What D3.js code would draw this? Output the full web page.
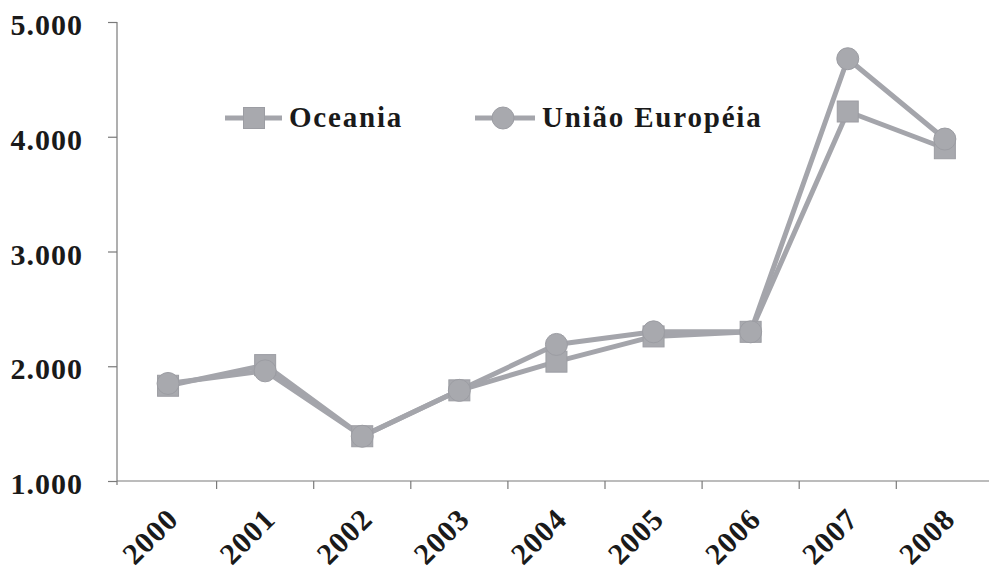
<!DOCTYPE html>
<html>
<head>
<meta charset="utf-8">
<script src="https://cdn.jsdelivr.net/npm/d3@7"></script>
<style>
  html, body { margin: 0; padding: 0; background: #ffffff; }
  svg { display: block; }
  text { font-family: "Liberation Serif", "Times New Roman", serif; font-weight: bold; fill: #1a1a1a; }
</style>
</head>
<body>
<svg id="chart" width="989" height="579"></svg>
<script>
// Years on the category axis
const years = ["2000", "2001", "2002", "2003", "2004", "2005", "2006", "2007", "2008"];
// Series values
const oceania = [1830, 2010, 1390, 1790, 2040, 2260, 2300, 4220, 3900];
const uniaoEuropeia = [1850, 1960, 1390, 1790, 2190, 2300, 2300, 4680, 3980];
// Value-axis ticks and their labels (Portuguese thousands separator)
const yTicks = [1000, 2000, 3000, 4000, 5000];
const yTickLabels = ["1.000", "2.000", "3.000", "4.000", "5.000"];
// Legend entries
const seriesNames = ["Oceania", "União Européia"];

const svg = d3.select("#chart");
const axisColor = "#7a7a7a";
const lineColor = "#a4a5ab";
const markerColor = "#a8a9ae";

const plotLeft = 117, axisY = 481, plotTop = 22;

const x = d3.scaleBand().domain(years).range([119.5, 119.5 + 97.1 * years.length]).paddingInner(0).paddingOuter(0);
const y = d3.scaleLinear().domain([1000, 5000]).range([axisY, plotTop]);

// Value axis
const yAxis = d3.axisLeft(y).tickValues(yTicks).tickSize(9).tickPadding(0).tickFormat((d, i) => yTickLabels[i]);
const gy = svg.append("g").attr("transform", `translate(${plotLeft},0)`).call(yAxis);
gy.select(".domain").attr("stroke", axisColor).attr("stroke-width", 1.2).attr("d", `M0,${plotTop}V${axisY + 4}`);
gy.selectAll(".tick line").attr("stroke", axisColor).attr("stroke-width", 1.2);
gy.selectAll(".tick text")
  .attr("x", -34).attr("dy", "12.5px")
  .attr("text-anchor", "end")
  .style("font-size", "30px").style("letter-spacing", "1px")
  .attr("fill", "#1a1a1a");

// Category axis, ticks sit on the boundaries between years
const gx = svg.append("g");
gx.append("line")
  .attr("x1", plotLeft).attr("x2", 989).attr("y1", axisY).attr("y2", axisY)
  .attr("stroke", axisColor).attr("stroke-width", 1.2);
gx.selectAll("line.tick").data(years.slice(1))
  .join("line").attr("class", "tick")
  .attr("x1", d => x(d)).attr("x2", d => x(d))
  .attr("y1", axisY).attr("y2", axisY + 8)
  .attr("stroke", axisColor).attr("stroke-width", 1.2);
gx.selectAll("text").data(years)
  .join("text")
  .attr("transform", d => `translate(${x(d) + x.bandwidth() / 2 + 12},${axisY + 40}) rotate(-45)`)
  .attr("text-anchor", "end")
  .style("font-size", "30px").style("letter-spacing", "1px")
  .text(d => d);

// Series lines and markers
const cx = d => x(d) + x.bandwidth() / 2;
const line = d3.line().x(d => cx(d.year)).y(d => y(d.value));
const seriesData = [oceania, uniaoEuropeia].map(vals => years.map((yr, i) => ({ year: yr, value: vals[i] })));

seriesData.forEach(pts => {
  svg.append("path").datum(pts)
    .attr("d", line)
    .attr("fill", "none")
    .attr("stroke", lineColor)
    .attr("stroke-width", 5)
    .attr("stroke-linejoin", "round");
});

const sq = 21, rad = 11;
svg.selectAll("rect.oc").data(seriesData[0]).join("rect").attr("class", "oc")
  .attr("x", d => cx(d.year) - sq / 2).attr("y", d => y(d.value) - sq / 2)
  .attr("width", sq).attr("height", sq)
  .attr("fill", markerColor).attr("stroke", "#9c9da3").attr("stroke-width", 1);
svg.selectAll("circle.ue").data(seriesData[1]).join("circle").attr("class", "ue")
  .attr("cx", d => cx(d.year)).attr("cy", d => y(d.value)).attr("r", rad)
  .attr("fill", markerColor).attr("stroke", "#9c9da3").attr("stroke-width", 1);

// Legend
const legend = svg.append("g");
const legendItems = [
  { name: seriesNames[0], lx1: 225, lx2: 282, mx: 254, tx: 289, shape: "square" },
  { name: seriesNames[1], lx1: 475, lx2: 535, mx: 503, tx: 542, shape: "circle" }
];
const legendY = 118;
legendItems.forEach(it => {
  legend.append("line")
    .attr("x1", it.lx1).attr("x2", it.lx2).attr("y1", legendY).attr("y2", legendY)
    .attr("stroke", lineColor).attr("stroke-width", 5);
  if (it.shape === "square") {
    legend.append("rect").attr("x", it.mx - sq / 2).attr("y", legendY - sq / 2)
      .attr("width", sq).attr("height", sq)
      .attr("fill", markerColor).attr("stroke", "#9c9da3").attr("stroke-width", 1);
  } else {
    legend.append("circle").attr("cx", it.mx).attr("cy", legendY).attr("r", rad)
      .attr("fill", markerColor).attr("stroke", "#9c9da3").attr("stroke-width", 1);
  }
  legend.append("text")
    .attr("x", it.tx).attr("y", legendY + 9)
    .style("font-size", "29px").style("letter-spacing", "1.8px")
    .text(it.name);
});
</script>
</body>
</html>
